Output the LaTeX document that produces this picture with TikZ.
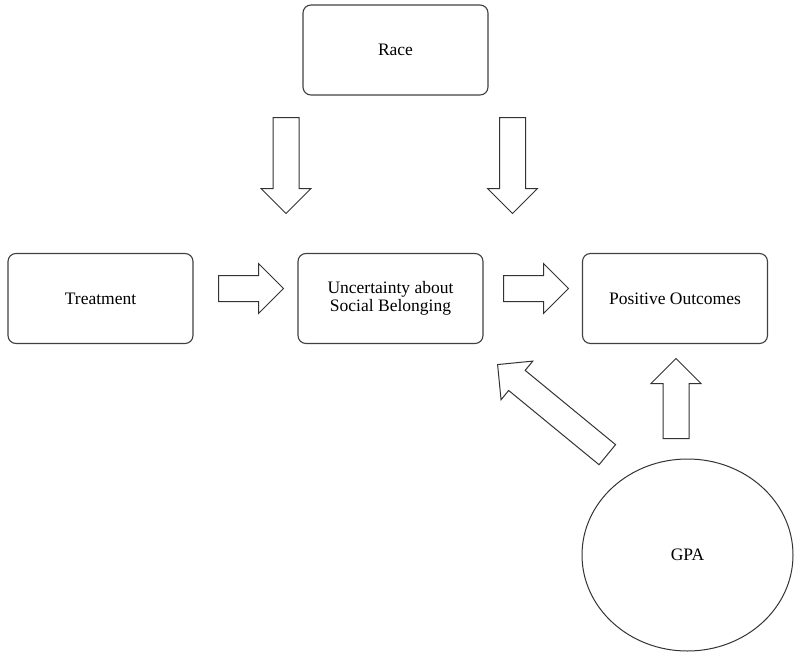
\documentclass[tikz,border=0pt]{standalone}
\usepackage{fontspec}
\setmainfont{Liberation Serif}
\usetikzlibrary{shapes.geometric,shapes.arrows}
\tikzset{
  boxNode/.style={rectangle,rounded corners=8pt,draw=black!75,line width=1.1pt,
    minimum width=185pt,minimum height=90pt,inner sep=0pt,align=center,
    font=\fontsize{17.5}{18}\selectfont},
  ovalNode/.style={ellipse,draw=black!80,line width=1pt,minimum width=211pt,
    minimum height=192pt,inner sep=0pt,font=\fontsize{17.5}{18}\selectfont},
  blockArrow/.style={single arrow,draw=black!80,line width=1pt,fill=white,
    inner xsep=0pt,inner ysep=12.5pt,minimum width=49pt,
    single arrow head extend=12pt,anchor=tail}
}
\begin{document}
\begin{tikzpicture}[x=1pt,y=-1pt]
  \useasboundingbox (0,0) rectangle (801,656);
  \node[boxNode] (race) at (395.5,50) {Race};
  \node[boxNode] (treat) at (100.5,298.5) {Treatment};
  \node[boxNode] (uncert) at (390.5,298.5) {Uncertainty about\\Social Belonging};
  \node[boxNode] (outcome) at (675,298.5) {Positive Outcomes};
  \node[ovalNode] (gpa) at (687.5,555) {GPA};
  % block arrows: name/tail x/tail y/rotation/length
  \foreach \n/\x/\y/\r/\l in {raceL/286/117/-90/96, raceR/512.5/117/-90/96,
      treatU/218/288.5/0/65, uncertO/503/288.5/0/65,
      gpaO/676/439/90/80, gpaU/607.7/455/140.6/142}
    \node[blockArrow,rotate=\r,minimum height=\l pt] (\n) at (\x,\y) {};
\end{tikzpicture}
\end{document}
